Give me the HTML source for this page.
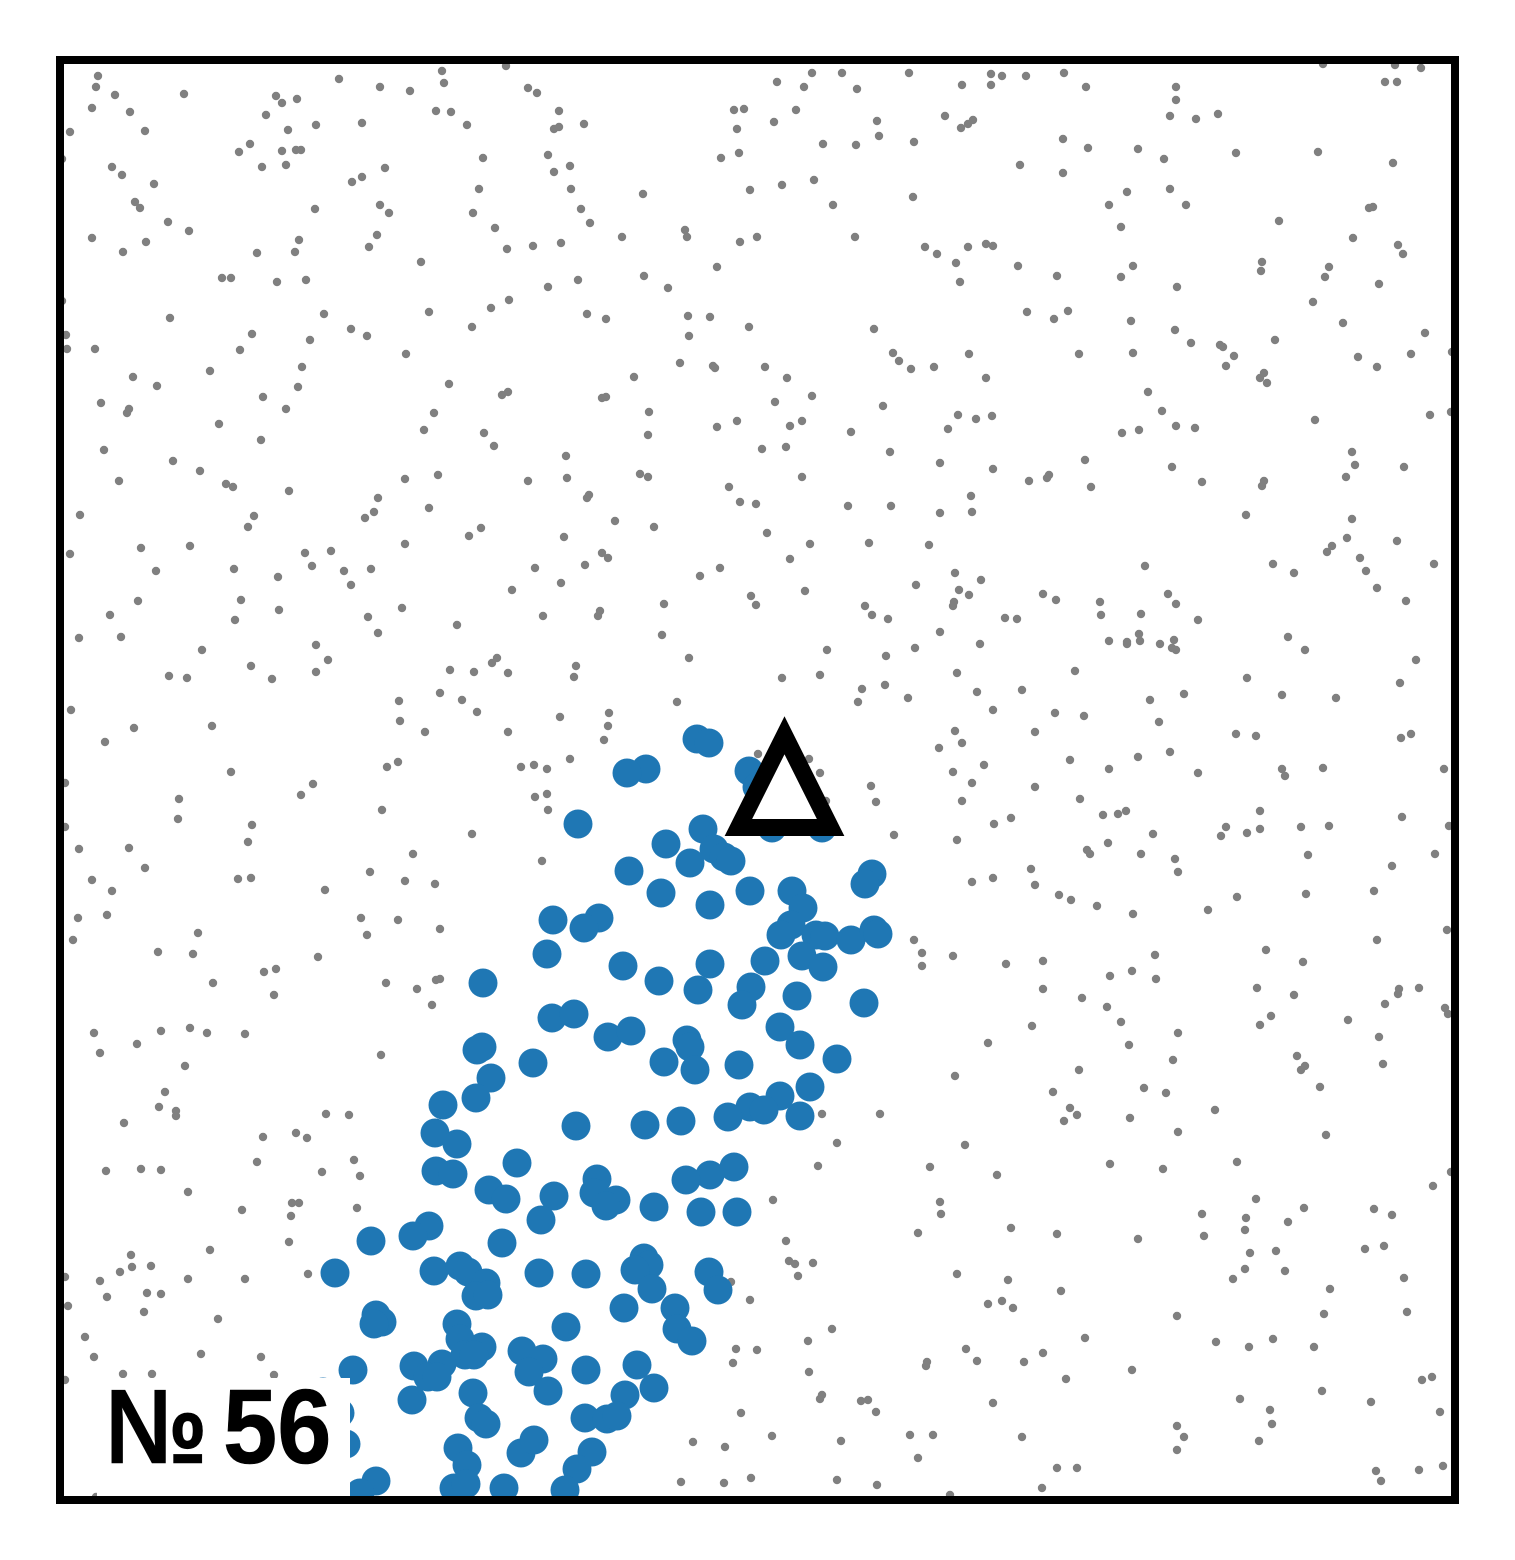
<!DOCTYPE html>
<html lang="en">
<head>
<meta charset="utf-8">
<title>Scatter panel No 56</title>
<style>
html,body{margin:0;padding:0;background:#fff;width:1515px;height:1560px;overflow:hidden}
svg{display:block}
</style>
</head>
<body>
<svg id="chart" xmlns="http://www.w3.org/2000/svg" width="1515" height="1560" viewBox="0 0 1515 1560">
<defs><clipPath id="axes-clip"><rect x="60" y="60" width="1395" height="1440"></rect></clipPath></defs>
<rect x="0" y="0" width="1515" height="1560" fill="#ffffff"></rect>
<g id="plot" clip-path="url(#axes-clip)">
<g id="background-layer"></g>
<g id="cluster-layer"></g>
<g id="marker-layer"></g>
<rect x="97" y="1378" width="253" height="122" fill="#ffffff"></rect>
<g font-family="'Liberation Sans', sans-serif" font-weight="700" font-size="106" fill="#000000" stroke="#000000" stroke-width="0.6">
<text transform="translate(105.8,1463) scale(0.86,1)" x="0" y="0">№</text>
<text transform="translate(223,1463) scale(0.92,1)" x="0" y="0">56</text>
</g>
</g>
<rect x="60" y="60" width="1395" height="1440" fill="none" stroke="#000000" stroke-width="8"></rect>
</svg>
<script>
const backgroundPoints = [[38,1424],[36,1413],[55,1405],[124,1406],[32,1392],[70,1388],[10,1368],[85,1369],[2,1341],[52,1333],[62,1325],[94,1316],[75,1298],[80,1292],[108,1278],[129,1269],[32,1262],[86,1258],[63,1248],[2,1199],[110,1182],[6,1165],[7,1151],[35,1151],[73,1123],[97,1114],[41,1097],[69,1091],[67,1087],[44,1050],[113,1039],[59,1019],[20,985],[140,1029],[150,1129],[159,1076],[166,1016],[173,1013],[162,1222],[171,1222],[180,1150],[192,1166],[197,1247],[203,1103],[201,1060],[194,984],[188,973],[229,1009],[226,1091],[238,1113],[242,1133],[250,1160],[217,1218],[246,1220],[235,1248],[239,1260],[264,1186],[255,1291],[179,1348],[190,1356],[202,1333],[222,1349],[236,1350],[241,1350],[226,1335],[228,1370],[206,1385],[216,1404],[222,1397],[237,1401],[256,1375],[279,1421],[302,1377],[320,1413],[350,1409],[382,1429],[384,1417],[376,1389],[391,1388],[407,1375],[423,1342],[419,1311],[413,1287],[435,1272],[447,1251],[446,1434],[325,1332],[302,1323],[292,1318],[320,1295],[329,1287],[317,1265],[309,1253],[361,1238],[369,1188],[431,1192],[449,1200],[412,1173],[291,1171],[307,1164],[346,1146],[389,1116],[442,1105],[448,1108],[374,1087],[364,1070],[424,1067],[434,1054],[345,1021],[378,1025],[318,1002],[314,988],[305,982],[369,992],[421,972],
[468,1412],[477,1407],[499,1389],[494,1371],[499,1373],[524,1376],[488,1345],[510,1334],[494,1328],[511,1311],[521,1291],[530,1277],[562,1263],[473,1254],[501,1257],[488,1213],[518,1220],[584,1224],[608,1212],[527,1186],[546,1181],[583,1306],[625,1270],[627,1263],[680,1258],[697,1263],[657,1233],[628,1184],[650,1183],[629,1164],[689,1173],[620,1137],[574,1123],[542,1102],[546,1103],[653,1134],[655,1132],[705,1133],[727,1122],[589,1088],[588,1065],[657,1073],[677,1079],[730,1074],[742,1079],[752,1104],[715,1098],[702,1051],[726,1053],[506,1044],[507,1022],[468,1019],[580,1026],[588,1023],[669,1013],[680,998],[696,996],[742,1023],[529,1005],[527,1002],[555,979],[594,973],[707,967],[788,994],[831,994],[880,987],[912,988],[911,1004],[880,1037],[933,1031],[830,1048],[791,1068],[823,1094],[888,1071],[898,1085],[916,1081],[932,1084],[926,1122],[909,1146],[874,1133],[851,1131],[839,1139],[833,1147],[814,1171],[900,1218],[896,1237],[877,1246],[865,1253],[908,1253],[926,1256],[933,1254],[795,1263],[773,1295],[754,1320],[722,1315],[690,1310],[661,1342],[679,1347],[677,1371],[674,1390],[684,1391],[714,1378],[736,1390],[717,1418],[744,1413],[752,1427],[782,1427],[797,1411],[849,1427],[902,1415],[931,1426],[931,1415],[817,1379],[819,1364],[796,1355],[763,1356],[854,1358],[885,1384],[901,1372],[908,1376],[913,1380],[853,1303],
[942,1424],[966,1424],[1004,1427],[1026,1413],[1116,1413],[1116,1400],[1110,1384],[1136,1381],[1158,1386],[1263,1436],[1335,1435],[1361,1432],[1325,1418],[1337,1418],[1003,1361],[1028,1352],[1078,1351],[1104,1341],[1176,1347],[1258,1348],[1333,1337],[960,1335],[1003,1327],[1067,1308],[1110,1311],[1049,1295],[1126,1295],[1061,1273],[1219,1279],[1309,1292],[1313,1293],[1293,1262],[1338,1255],[1343,1246],[958,1234],[997,1224],[1061,1223],[1073,1234],[1117,1213],[1202,1238],[1201,1229],[1269,1233],[1265,1223],[1319,1216],[1253,1198],[967,1188],[994,1181],[1008,1189],[1071,1179],[1115,1170],[1131,1157],[1283,1177],[1365,1167],[1215,1160],[1160,1155],[1163,1153],[1174,1144],[1166,1134],[1019,1146],[1073,1147],[1298,1143],[1317,1133],[1351,1146],[1392,1148],[1204,1127],[1200,1122],[1207,1117],[1088,1108],[1102,1089],[1116,1074],[1135,1072],[1079,1070],[1062,1067],[1255,1080],[1370,1085],[1391,1088],[1025,1040],[1112,1033],[1142,1018],[1204,1019],[1202,1014],[1292,1048],[1295,1035],[1286,1023],[1344,1033],[1186,985],[1292,981],[969,1019],[989,1025],[987,1022],[1031,1013],
[409,964],[10,946],[81,952],[130,954],[96,929],[174,931],[218,923],[245,947],[271,949],[252,934],[284,929],[311,931],[291,915],[345,956],[452,910],[78,899],[50,885],[19,862],[61,863],[181,900],[175,880],[219,890],[142,850],[308,883],[342,892],[318,867],[397,875],[256,855],[268,840],[256,828],[191,834],[212,821],[109,824],[127,822],[390,830],[414,828],[432,837],[437,842],[448,827],[380,807],[402,800],[417,788],[339,799],[340,779],[365,768],[448,768],[11,790],[74,772],[152,774],[45,758],[171,728],[327,733],[338,738],[461,733],[5,717],[253,716],[241,705],[119,701],[118,681],[322,690],[5,673],[192,675],[188,658],[412,666],[19,651],[69,652],[85,632],[353,646],[32,620],[52,609],[178,621],[191,622],[310,628],[345,619],[375,616],[265,610],[18,582],[47,585],[13,560],[138,567],[301,582],[338,580],[307,565],[380,571],[98,548],[133,546],[258,543],[204,528],[216,531],[153,517],[326,517],[357,511],[376,520],[380,521],
[504,963],[475,932],[525,935],[542,947],[548,942],[501,917],[640,924],[660,932],[750,956],[730,941],[809,957],[869,955],[745,909],[691,904],[696,895],[604,896],[483,884],[540,889],[538,884],[602,865],[629,842],[516,834],[514,823],[722,822],[760,825],[767,850],[826,844],[855,852],[880,868],[805,894],[812,885],[828,881],[856,915],[895,927],[921,920],[899,910],[909,905],[894,898],[893,894],[920,856],[897,827],[917,808],[802,811],[798,798],[825,815],[848,802],[933,790],[617,798],[500,783],[549,787],[548,774],[544,760],[510,741],[474,735],[487,731],[475,703],[487,706],[488,690],[698,746],[749,741],[760,727],[766,699],[811,714],[816,698],[834,665],[895,769],[902,757],[879,752],[924,735],[893,728],[912,717],[902,699],[934,676],[897,660],[482,639],[912,618],[933,622],[854,560],[862,547],[862,534],[893,544],
[1085,934],[1213,936],[1234,927],[1267,948],[1272,954],[1287,962],[1337,959],[1300,942],[1306,929],[1374,936],[1317,912],[1346,899],[983,906],[996,900],[1040,898],[1041,885],[945,882],[957,881],[1081,886],[1108,906],[1116,896],[1138,880],[1079,866],[1049,859],[1067,858],[1067,856],[1080,859],[1100,856],[1114,860],[1112,852],[1116,850],[1228,863],[1245,850],[1356,840],[1015,829],[1187,822],[962,810],[1090,800],[1124,806],[1222,805],[1276,802],[1340,817],[995,787],[1024,784],[1099,778],[975,768],[1176,766],[1196,764],[1341,762],[1351,766],[1010,740],[1078,743],[1110,748],[1049,731],[1138,727],[1222,731],[1225,724],[1263,732],[1384,731],[975,713],[1020,701],[951,682],[1043,685],[1058,686],[1066,689],[1166,673],[1161,664],[1187,667],[1200,689],[1200,671],[1241,673],[1269,674],[1342,683],[1389,674],[1093,666],[1048,657],[1027,650],[1030,646],[1081,646],[1115,641],[1118,628],[1248,645],[1375,646],[1332,634],[971,631],[975,615],[999,605],[1011,600],[1037,594],[1073,586],[1148,590],[1177,603],[1246,606],[1314,609],[1387,570],[1317,560],[1206,550],[1243,538],[1095,545],[983,539],[946,536],[1072,529],[1050,524],[1096,521],[983,511],[1022,502],[1197,512],[1234,505],[1339,511],[1338,506],[1359,512],
[214,505],[372,495],[34,467],[101,469],[130,472],[147,467],[185,466],[40,447],[77,456],[321,445],[125,434],[105,408],[99,393],[116,389],[116,384],[64,377],[266,386],[289,385],[203,363],[236,367],[247,362],[197,338],[294,340],[262,328],[300,324],[46,329],[81,331],[101,330],[128,308],[182,290],[232,297],[239,297],[231,284],[297,292],[229,258],[150,250],[71,245],[72,233],[91,234],[60,228],[40,219],[5,223],[128,221],[185,221],[248,226],[47,203],[87,207],[101,206],[8,194],[84,188],[158,181],[25,163],[34,143],[141,146],[201,143],[63,126],[92,126],[214,125],[5,120],[36,3],
[671,218],[762,386],[820,386],[777,357],[758,334],[905,355],[870,333],[937,325],[713,300],[880,298],[881,286],[858,267],[726,259],[729,239],[735,236],[753,237],[738,224],[897,226],[690,200],[928,196],[772,171],[748,159],[676,151],[697,150],[673,137],[749,128],[906,151],[917,139],[867,138],[866,134],[762,105],[760,101],[801,99],[808,100],[816,88],[681,87],[933,97],[633,58],[665,53],[712,64],[781,59],[850,65],[873,65],[858,42],[621,18],[664,17],[691,22],[777,20],[817,15],[890,5],[928,457],[895,424],
[1047,493],[1061,478],[972,474],[1118,467],[1069,455],[1211,484],[1200,475],[1288,480],[1325,496],[1319,463],[1323,436],[1385,492],[1388,486],[1237,444],[1245,434],[1241,430],[1113,440],[1019,430],[1260,413],[993,408],[1084,412],[1106,407],[1010,392],[1017,385],[1004,379],[1070,382],[1155,390],[1118,368],[1266,365],[1050,336],[1103,331],[1177,338],[1391,328],[1373,314],[1196,301],[1142,286],[1186,282],[1244,292],[1228,278],[1314,291],[1332,285],[1185,270],[1144,264],[951,272],[997,266],[1078,261],[1190,247],[1216,249],[1305,251],[1324,254],[1185,231],[1225,229],[1173,221],[1344,222],[1270,211],[948,220],[1001,209],[942,199],[953,192],[1264,186],[1347,188],[1117,184],[1025,162],[1156,158],[1189,153],[1213,161],[1254,153],[983,147],[964,138],[1072,130],[1006,121],[1362,120],[1372,123],[1180,101],[1262,109],[1311,98],[1210,90],[1380,88],[1212,76],[1117,74],[1124,63],[1117,50],[1199,59],[962,63],[997,32],[1017,32],[982,12],[1316,29],[1321,19],[1359,30],[1383,34]];

const clusterPoints = [[423,517],[422,453],[417,450],[431,422],[416,402],[383,395],[375,367],[397,356],[376,329],[393,326],[457,337],[429,310],[446,301],[369,274],[353,264],[311,259],[442,257],[275,227],[374,229],[400,234],[408,228],[426,217],[416,204],[428,205],[316,185],[322,178],[314,176],[397,176],[400,161],[422,153],[405,145],[414,145],[462,149],[293,130],[354,134],[382,136],[368,123],[377,123],[352,100],[413,107],[419,82],[426,76],[263,108],[280,87],[286,56],[316,19],[300,7],[398,52],[407,35],[394,12],[406,16],[444,12],[461,47],
[637,761],[649,757],[586,731],[567,727],[689,729],[697,713],[518,676],[712,672],[762,672],[643,671],[606,656],[654,651],[664,643],[671,639],[630,637],[569,629],[601,607],[690,609],[732,609],[650,595],[743,592],[812,626],[805,616],[493,580],[539,582],[524,572],[731,575],[721,565],[756,565],[765,564],[791,560],[814,570],[818,566],[487,546],[742,544],[763,533],[705,539],[650,536],[563,534],[599,519],[638,510],[691,513],[682,495],[737,504],[804,497],
[492,482],[514,486],[548,463],[571,469],[627,460],[630,453],[604,438],[635,430],[679,435],[473,437],[720,473],[740,455],[777,441],[750,413],[720,404],[690,393],[704,390],[668,383],[740,384],[516,374],[585,375],[621,379],[674,333],[650,325],[626,320],[537,321],[494,304],[481,280],[534,307],[556,300],[546,294],[594,293],[641,288],[677,288],[584,242],[589,235],[575,230],[592,211],[649,228],[658,210],[479,227],[526,226],[564,192],[615,192],[617,171],[632,159],[506,173],[483,141],[469,128],[488,109],[526,130],[577,135],[594,112],[565,105],[525,82],[547,81],[557,84],[474,60],[532,48],[517,31],[505,10]];

const targetPoint = [724.5, 718.6];

const xDomain = [0, 1395];
const yDomain = [0, 1440];

function xScale(v) {
  return 60 + (v - xDomain[0]) / (xDomain[1] - xDomain[0]) * 1395;
}
function yScale(v) {
  return 1500 - (v - yDomain[0]) / (yDomain[1] - yDomain[0]) * 1440;
}

const svgNS = 'http://www.w3.org/2000/svg';
const backgroundLayer = document.getElementById('background-layer');
backgroundPoints.forEach(function (p) {
  const c = document.createElementNS(svgNS, 'circle');
  c.setAttribute('cx', xScale(p[0]));
  c.setAttribute('cy', yScale(p[1]));
  c.setAttribute('r', 4.2);
  c.setAttribute('fill', '#808080');
  
  
  backgroundLayer.appendChild(c);
});

const clusterLayer = document.getElementById('cluster-layer');
clusterPoints.forEach(function (p) {
  const c = document.createElementNS(svgNS, 'circle');
  c.setAttribute('cx', xScale(p[0]));
  c.setAttribute('cy', yScale(p[1]));
  c.setAttribute('r', 14.5);
  c.setAttribute('fill', '#1f77b4');
  
  
  clusterLayer.appendChild(c);
});

const markerLayer = document.getElementById('marker-layer');
const mx = xScale(targetPoint[0]);
const my = yScale(targetPoint[1]);
const ms = 46.1;
const tri = document.createElementNS(svgNS, 'polygon');
tri.setAttribute('points', mx + ',' + (my - ms) + ' ' + (mx - ms) + ',' + (my + ms) + ' ' + (mx + ms) + ',' + (my + ms));
tri.setAttribute('fill', '#ffffff');
tri.setAttribute('stroke', '#000000');
tri.setAttribute('stroke-width', 17);
tri.setAttribute('stroke-linejoin', 'miter');
tri.setAttribute('stroke-miterlimit', 10);


markerLayer.appendChild(tri);
</script>
</body>
</html>
